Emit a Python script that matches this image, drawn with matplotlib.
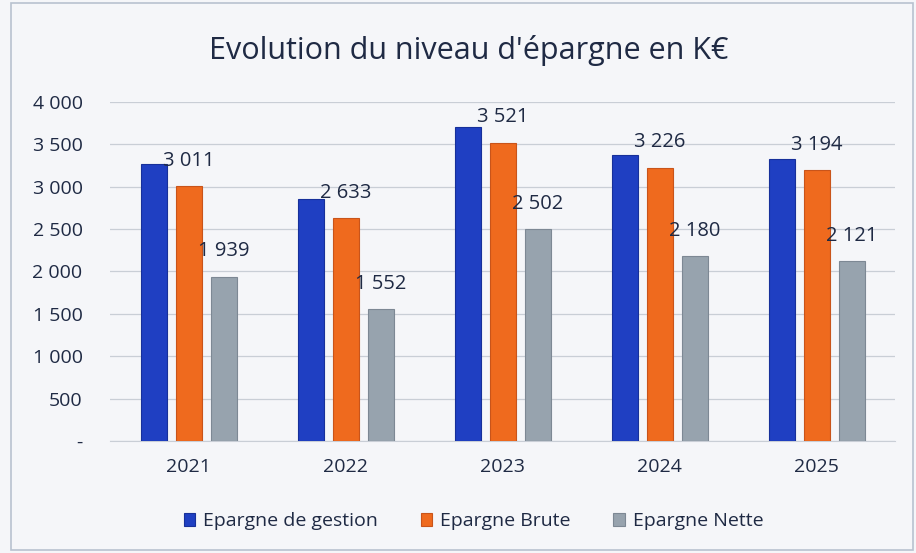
import matplotlib
matplotlib.use("Agg")
import matplotlib.pyplot as plt
import numpy as np
from matplotlib.patches import Rectangle

years = ["2021", "2022", "2023", "2024", "2025"]
gestion = [3266, 2855, 3706, 3375, 3322]
brute = [3011, 2633, 3521, 3226, 3194]
nette = [1939, 1552, 2502, 2180, 2121]
series_names = ["Epargne de gestion", "Epargne Brute", "Epargne Nette"]
yticks = [0, 500, 1000, 1500, 2000, 2500, 3000, 3500, 4000]

def fmt(v):
    return "-" if v == 0 else f"{v:,}".replace(",", " ")

plt.rcParams['font.family'] = ['Open Sans', 'DejaVu Sans']
txt = "#1f2a44"
bg = "#f5f6f9"

fig = plt.figure(figsize=(9.16, 5.53), dpi=100, facecolor=bg)
ax = fig.add_axes([0.1205, 0.2025, 0.857, 0.6131])
ax.set_facecolor(bg)

x = np.arange(len(years))
w = 0.17
step = 0.223
colors = ["#1f3fc2", "#ef6a1e", "#97a3ae"]
edges = ["#17309a", "#c9541a", "#7d8894"]
for i, (vals, c, ec, name) in enumerate(zip([gestion, brute, nette], colors, edges, series_names)):
    bars = ax.bar(x + (i - 1) * step, vals, width=w, color=c, edgecolor=ec, linewidth=0.8, label=name, zorder=3)
    if i > 0:
        for b, v in zip(bars, vals):
            ax.annotate(fmt(v), (b.get_x() + b.get_width() / 2, v), xytext=(0, 11),
                        textcoords="offset points", ha="center", va="bottom",
                        fontsize=14.5, color=txt, zorder=4)

ax.set_xlim(-0.5, 4.5)
ax.set_ylim(0, 4000)
ax.set_yticks(yticks)
ax.set_yticklabels([fmt(v) for v in yticks], fontsize=14, color=txt)
ax.set_xticks(x)
ax.set_xticklabels(years, fontsize=14, color=txt)
ax.tick_params(axis='y', length=0, pad=20)
ax.tick_params(axis='x', length=0, pad=12)
ax.grid(axis='y', color="#c9ced6", linewidth=0.9, zorder=0)
for s in ["top", "right", "left"]:
    ax.spines[s].set_visible(False)
ax.spines["bottom"].set_color("#c9ced6")

fig.text(0.512, 0.908, "Evolution du niveau d'épargne en K€", ha="center", va="center",
         fontsize=22, color=txt)

leg = fig.legend(loc="center", bbox_to_anchor=(0.517, 0.057), ncol=3, frameon=False,
                 fontsize=14, handlelength=0.6, handleheight=0.6, columnspacing=2.2,
                 handletextpad=0.4)
for t in leg.get_texts():
    t.set_color(txt)

fig.patches.append(Rectangle((0.012, 0.005), 0.985, 0.99, transform=fig.transFigure,
                             fill=False, edgecolor="#b8c2cf", linewidth=1.2))

fig.savefig("out.png", dpi=100, facecolor=bg)
